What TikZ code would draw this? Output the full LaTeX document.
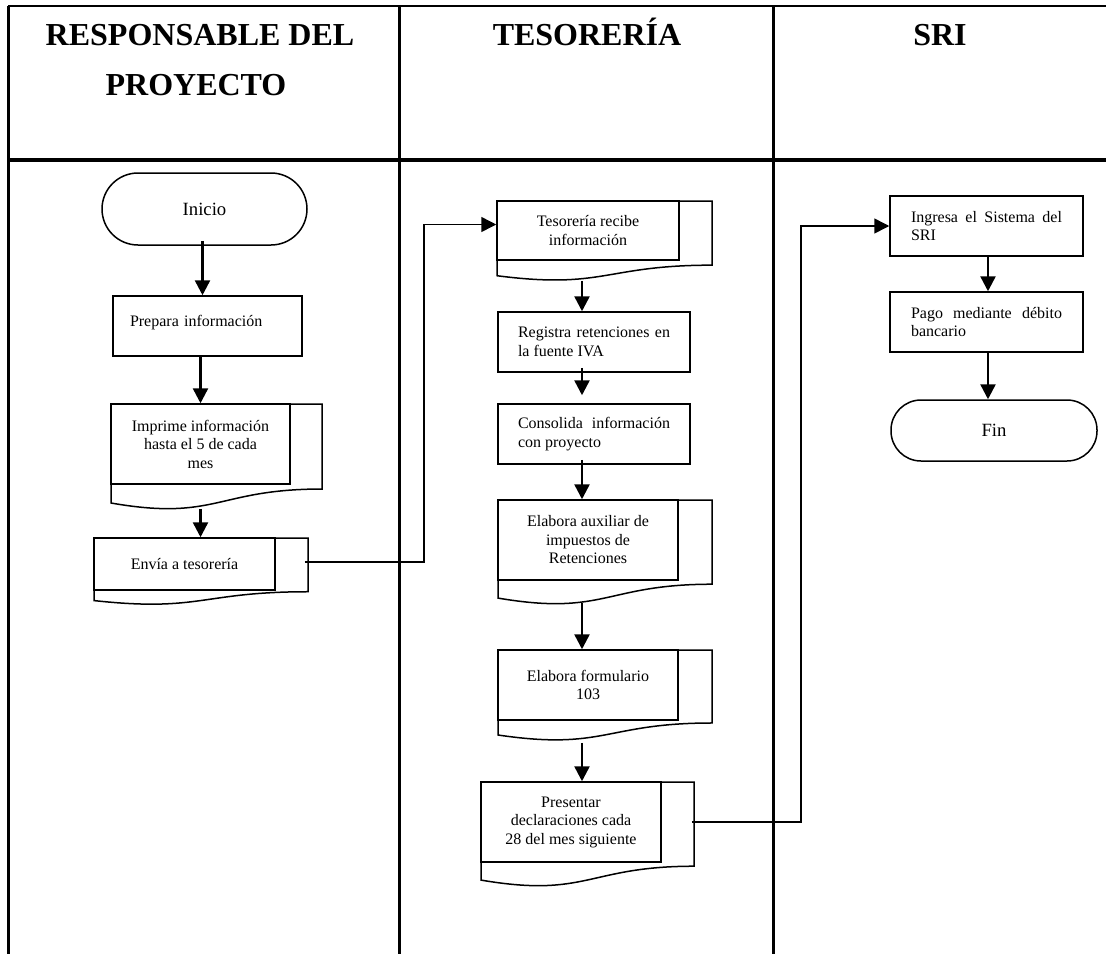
\documentclass[tikz,border=0pt]{standalone}
\usepackage{fontspec}
\setmainfont{Liberation Serif}
\usetikzlibrary{arrows.meta,calc}

\newcommand{\hojas}[4]{\draw[line width=1.5pt] (#1,#2) -- (#3,#2) -- (#3,{#2+0.802*#4}) .. controls ({(#1+#3)/2},{#2+0.802*#4}) and ({(#1+#3)/2},{#2+1.1075*#4}) .. (#1,{#2+0.934*#4}) -- (#1,#2);}

\begin{document}
\begin{tikzpicture}[x=1pt, y=-1pt,
  titulo/.style={font=\fontsize{32}{38}\selectfont\bfseries, anchor=base},
  terminal/.style={draw, line width=1.5pt, font=\fontsize{18.7}{22}\selectfont},
  proceso/.style={draw, line width=1.5pt, inner xsep=20pt, text width=152pt, align=justify, minimum height=60pt, font=\fontsize{16}{18.5}\selectfont},
  hoja/.style={draw, line width=1.5pt, align=center, font=\fontsize{16}{18.5}\selectfont},
  flecha/.style={line width=2.5pt, -{Triangle[length=15pt,width=15pt]}},
  conector/.style={line width=1.5pt, -{Triangle[length=15pt,width=15pt]}},
  marco/.style={line width=3pt}]
\useasboundingbox (0,0) rectangle (1106,954);

\draw[line width=1.5pt] (8,6) -- (1106,6);
\draw[marco] (8,6) -- (8,954);
\draw[marco] (399,6) -- (399,954);
\draw[marco] (773,6) -- (773,954);
\draw[line width=4pt] (8,160) -- (1106,160);

\node[titulo] (resp1) at (200,45) {RESPONSABLE DEL};
\node[titulo] (resp2) at (196,95) {PROYECTO};
\node[titulo] (teso) at (587,45) {TESORERÍA};
\node[titulo] (sri) at (940,45) {SRI};

\node[terminal, rounded corners=36pt, minimum width=205pt, minimum height=72pt] (inicio) at (204.5,209) {Inicio};
\node[draw, line width=1.5pt, font=\fontsize{16}{18.5}\selectfont, text width=155pt, align=left, inner xsep=17pt, text height=11pt, text depth=11pt, minimum height=60pt] (prepara) at (207.5,326) {Prepara información};
\hojas{111}{404}{322}{106}
\node[hoja, minimum width=179pt, minimum height=80pt] (imprime) at (200.5,444) {Imprime información\\hasta el 5 de cada\\mes};
\hojas{94}{538}{308}{67}
\node[hoja, minimum width=181pt, minimum height=52pt] (envia) at (184.5,564) {Envía a tesorería};

\hojas{497}{201}{712}{80}
\node[hoja, minimum width=182pt, minimum height=59pt] (recibe) at (588,230.5) {Tesorería recibe\\información};
\node[proceso] (registra) at (594,342) {Registra retenciones en\linebreak la fuente IVA};
\node[proceso] (consolida) at (594,434) {Consolida información\linebreak con proyecto};
\hojas{498}{500}{712}{105}
\node[hoja, minimum width=180pt, minimum height=80pt] (auxiliar) at (588,540) {Elabora auxiliar de\\impuestos de\\Retenciones};
\hojas{498}{650}{712}{91}
\node[hoja, minimum width=180pt, minimum height=70pt] (formulario) at (588,685) {Elabora formulario\\103};
\hojas{481}{782}{694}{105}
\node[hoja, minimum width=180pt, minimum height=80pt] (presentar) at (571,822) {Presentar\\declaraciones cada\\28 del mes siguiente};

\node[proceso, text width=151pt, inner xsep=21pt] (ingresa) at (986.5,226) {Ingresa el Sistema del\linebreak SRI};
\node[proceso, text width=151pt, inner xsep=21pt] (pago) at (986.5,322) {Pago mediante débito\linebreak bancario};
\node[terminal, rounded corners=30pt, minimum width=206pt, minimum height=61pt] (fin) at (994,430.5) {Fin};

\draw[flecha] ($(inicio.south)+(-2,-5)$) -- (prepara.north -| {$(inicio.south)+(-2,0)$});
\draw[flecha] (prepara.south -| imprime.north) -- (imprime.north);
\draw[flecha] ($(imprime.south)+(0,24)$) -- (imprime.south |- envia.north);
\draw[conector] ($(envia.east)+(29,-2)$) -- ++(119,0) |- ($(recibe.west)+(0,-6)$);

\draw[flecha] ($(recibe.south)+(-6,20)$) -- ($(registra.north)+(-12,0)$);
\draw[flecha] ($(registra.south)+(-12,-5)$) -- ($(consolida.north)+(-12,-8)$);
\draw[flecha] ($(consolida.south)+(-12,-5)$) -- ($(auxiliar.north)+(-6,0)$);
\draw[flecha] ($(auxiliar.south)+(-6,22)$) -- ($(formulario.north)+(-6,0)$);
\draw[flecha] ($(formulario.south)+(-6,22)$) -- ($(presentar.north)+(11,0)$);
\draw[conector] ($(presentar.east)+(30,0)$) -- ++(109,0) |- (ingresa.west);

\draw[flecha] ($(ingresa.south)+(1.5,0)$) -- ($(pago.north)+(1.5,0)$);
\draw[flecha] ($(pago.south)+(1.5,0)$) -- ($(pago.south |- fin.north)+(1.5,0)$);
\end{tikzpicture}
\end{document}
